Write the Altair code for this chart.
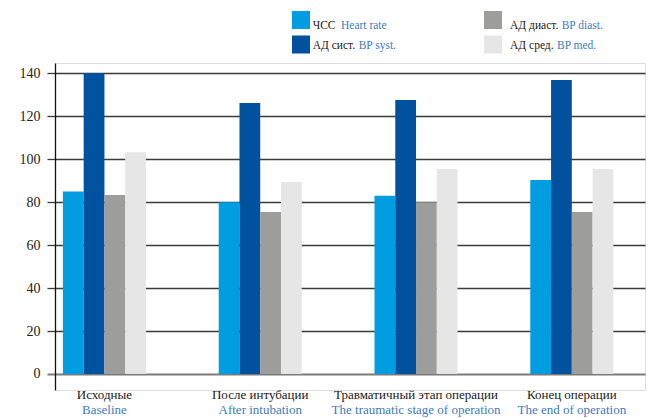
import altair as alt
import pandas as pd

# ---- data ----
groups_ru = ["Исходные", "После интубации", "Травматичный этап операции", "Конец операции"]
groups_en = ["Baseline", "After intubation", "The traumatic stage of operation", "The end of operation"]
series_ru = ["ЧСС", "АД сист.", "АД диаст.", "АД сред."]
series_en = ["Heart rate", "BP syst.", "BP diast.", "BP med."]
heart_rate = [85, 80, 83, 90.3]
bp_syst = [140, 126.2, 127.6, 136.9]
bp_diast = [83.3, 75.4, 80, 75.4]
bp_med = [103.3, 89.4, 95.4, 95.4]
y_ticks = [0, 20, 40, 60, 80, 100, 120, 140]

colors = ["#009ee0", "#00519e", "#9d9d9c", "#e6e6e6"]
FONT = "'Liberation Serif', 'Times New Roman', Times, serif"
BLUE_TXT = "#3b7cc4"
W, H = 590, 327

rows = []
for si, vals in enumerate([heart_rate, bp_syst, bp_diast, bp_med]):
    for gi, v in enumerate(vals):
        rows.append({"group": groups_ru[gi], "series": series_ru[si], "value": v})
df = pd.DataFrame(rows)
lab = pd.DataFrame({"group": groups_ru, "en": groups_en})

xscale = alt.Scale(domain=groups_ru, paddingInner=0.467, paddingOuter=0.127, align=0.2)

bars = alt.Chart(df).mark_bar().encode(
    x=alt.X("group:N", scale=xscale, axis=None),
    xOffset=alt.XOffset("series:N", sort=series_ru,
                        scale=alt.Scale(domain=series_ru, paddingInner=0, paddingOuter=0)),
    y=alt.Y("value:Q",
            scale=alt.Scale(domain=[-7.45, 144.8], nice=False, zero=False),
            axis=alt.Axis(values=y_ticks, title=None, labelFont=FONT, labelFontSize=14,
                          labelColor="#222222", labelPadding=7, tickSize=8,
                          tickColor={"condition": {"test": "datum.value === 0", "value": "#7a7a7a"}, "value": "#3a3a3a"},
                          tickWidth={"condition": {"test": "datum.value === 0", "value": 2}, "value": 1.3},
                          gridColor={"condition": {"test": "datum.value === 0", "value": "#7a7a7a"}, "value": "#3a3a3a"},
                          gridWidth={"condition": {"test": "datum.value === 0", "value": 2}, "value": 1.3},
                          grid=True, domainColor="#111111", domainWidth=1.3)),
    color=alt.Color("series:N", scale=alt.Scale(domain=series_ru, range=colors), legend=None),
)

lab_ru = alt.Chart(lab).mark_text(font=FONT, fontSize=13, color="#1a1a1a", baseline="alphabetic").encode(
    x=alt.X("group:N", scale=xscale, axis=None), y=alt.value(336), text="group:N")
lab_en = alt.Chart(lab).mark_text(font=FONT, fontSize=13, color=BLUE_TXT, baseline="alphabetic").encode(
    x=alt.X("group:N", scale=xscale, axis=None), y=alt.value(351), text="en:N")

# ---- manual legend (two colours per label) ----
one = pd.DataFrame({"k": [0]})
sq_x = [246, 438]            # square centres per column (plot coords)
txt_x = [257.7, 455]         # russian text start per column
en_x = [[286, 303.7], [506.7, 502]]  # english text start [col][row]
sq_y = [-43, -18.5]
txt_y = [-34.5, -13.7]
legend_layers = []
for i in range(4):
    c, r = i // 2, i % 2
    legend_layers.append(alt.Chart(one).mark_square(size=324, opacity=1, color=colors[i]).encode(
        x=alt.value(sq_x[c]), y=alt.value(sq_y[r])))
    legend_layers.append(alt.Chart(one).mark_text(font=FONT, fontSize=11.5, color="#1a1a1a",
                                                  align="left", baseline="alphabetic").encode(
        x=alt.value(txt_x[c]), y=alt.value(txt_y[r]), text=alt.value(series_ru[i])))
    legend_layers.append(alt.Chart(one).mark_text(font=FONT, fontSize=11.5, color=BLUE_TXT,
                                                  align="left", baseline="alphabetic").encode(
        x=alt.value(en_x[c][r]), y=alt.value(txt_y[r]), text=alt.value(series_en[i])))

chart = alt.layer(bars, lab_ru, lab_en, *legend_layers).properties(
    width=W, height=H,
    autosize=alt.AutoSizeParams(type="none"),
    padding={"left": 55, "top": 63, "right": 4, "bottom": 28},
).configure_view(stroke=None).configure(background="white")

chart.save("out.html", embed_options={"renderer": "svg", "actions": False})
